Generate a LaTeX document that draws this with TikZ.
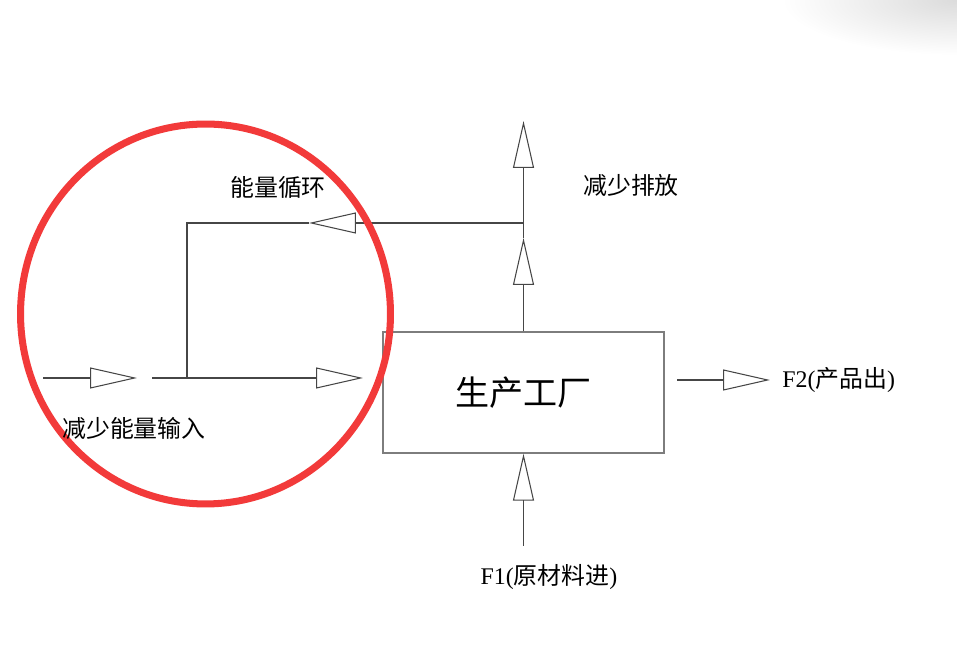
\documentclass[tikz,border=0pt]{standalone}
\usepackage{fontspec}
\setmainfont{Liberation Serif}
\newfontfamily\cjk{Noto Sans CJK SC}
\usetikzlibrary{arrows.meta, positioning}

\begin{document}
\begin{tikzpicture}[x=0.02cm, y=-0.02cm,
        wire/.style={draw=lineGray, line width=0.6pt},
        flow/.style={wire, -{Triangle[open, length=0.94cm, width=0.42cm]}},
        lbl/.style={font=\cjk\fontsize{13.6}{16}\selectfont, inner sep=0pt},
        latin/.style={font=\rmfamily\fontsize{13.6}{16}\selectfont, inner sep=0pt}]
        % 定义颜色
        \definecolor{lineGray}{RGB}{70,70,70}   % 连线
        \definecolor{boxGray}{RGB}{125,125,125} % 方框
        \definecolor{markRed}{RGB}{242,58,58}   % 红圈

        \useasboundingbox (0,0) rectangle (957,671);

        % 右上角淡灰阴影
        \begin{scope}
            \clip (0,0) rectangle (957,671);
            \shade[inner color=black!14, outer color=white] (957,0) ellipse [x radius=3.5cm, y radius=1.1cm];
        \end{scope}

        % 生产工厂方框
        \node[draw=boxGray, line width=0.8pt, minimum width=5.62cm, minimum height=2.42cm,
              font=\cjk\fontsize{19.4}{22}\selectfont] (plant) at (523.5,392.5) {生产工厂};

        % 辅助坐标
        \coordinate (inStart) at (43,378);
        \coordinate (inEnd) at (137,378);
        \coordinate (mainStart) at (152,378);
        \coordinate (mainEnd) at (363,378);
        \coordinate (loopFoot) at (187,378);
        \coordinate (loopCorner) at (187,223);
        \coordinate (loopJoin) at (plant.north |- 0,223);
        \coordinate (loopTip) at (309,223);
        \coordinate (riseTip) at (plant.north |- 0,238);
        \coordinate (ventTip) at (plant.north |- 0,121);
        \coordinate (feedStart) at (plant.south |- 0,546);
        \coordinate (outStart) at (677,380);
        \coordinate (outTip) at (770,380);

        % 能量输入与循环
        \draw[flow] (inStart) -- (inEnd);
        \draw[flow] (mainStart) -- (mainEnd);
        \draw[flow] (loopJoin) -- (loopTip);
        \draw[wire] (loopTip) -- (loopCorner) -- (loopFoot);

        % 排放、原料、产品
        \draw[flow] (plant.north) -- (riseTip);
        \draw[flow] (riseTip) -- (ventTip);
        \draw[flow] (feedStart) -- (plant.south);
        \draw[flow] (outStart) -- (outTip);

        % 红色圆圈
        \draw[markRed, line width=4pt] (205.5,314) ellipse [x radius=3.7cm, y radius=3.8cm];

        % 文字标注
        \node[lbl] (loopLbl) at (278,187) {能量循环};
        \node[lbl] (ventLbl) at (631,185) {减少排放};
        \node[lbl] (inLbl) at (134,428) {减少能量输入};
        \node[latin] (feedLbl) at (549,577) {F1({\cjk 原材料进})};
        \node[latin, right=0.24cm of outTip] (outLbl) {F2({\cjk 产品出})};
\end{tikzpicture}
\end{document}
